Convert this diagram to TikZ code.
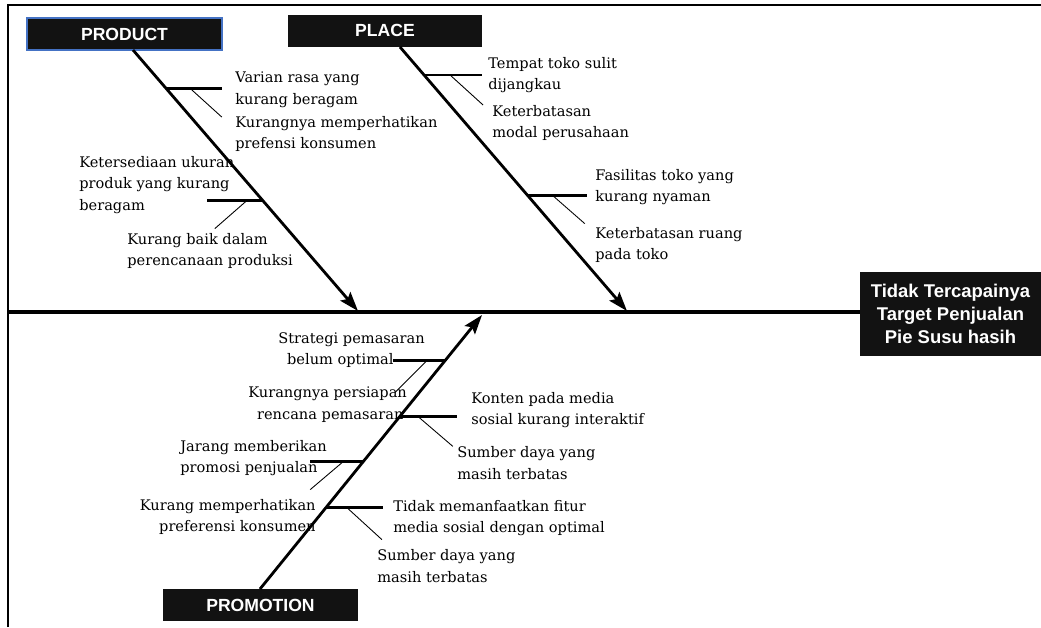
\documentclass[tikz,border=0pt]{standalone}
\usepackage{fontspec}
\setmainfont{DejaVu Serif}
\newfontfamily\headfont{Liberation Sans}
\usetikzlibrary{arrows.meta}
\usetikzlibrary{shapes,positioning}
\tikzset{>={Stealth[length=11pt,width=7.5pt,inset=2pt]}}
\definecolor{boxBlue}{RGB}{68,114,196}
\colorlet{boxFill}{black!93}
\tikzset{
  catbox/.style={fill=boxFill, text=white, inner sep=0pt,
    minimum width=3.9cm, minimum height=0.64cm,
    font=\headfont\bfseries\fontsize{10}{12}\selectfont},
  effbox/.style={fill=boxFill, text=white, inner sep=0pt, align=center,
    minimum width=3.62cm, minimum height=1.68cm,
    font=\headfont\bfseries\fontsize{10.5}{13}\selectfont},
  cause/.style={inner sep=0pt, anchor=west, align=left,
    font=\fontsize{8.3}{12.4}\selectfont},
  spine/.style={line width=2pt},
  bone/.style={line width=1.6pt, ->},
  rib/.style={line width=1.6pt},
  twig/.style={line width=0.5pt}
}

\begin{document}
\begin{tikzpicture}[x=0.02cm,y=-0.02cm]
    \useasboundingbox (0,0) rectangle (1041,627);
    \draw [line width=1.1pt] (8,627) -- (8,5) -- (1041,5);
    % head and spine
    \node[effbox] (effect) at (950.5,314) {Tidak Tercapainya\\Target Penjualan\\Pie Susu hasih};
    \coordinate (tail) at (8,312);
    \draw[spine] (tail) -- (tail -| effect.west);
    % categories
    \node[catbox, draw=boxBlue, line width=0.6pt] (product) at (124.5,34) {PRODUCT};
    \node[catbox] (place) at (385,30.5) {PLACE};
    \node[catbox] (promotion) at (260.5,605) {PROMOTION};
    \coordinate (prodtop) at (133,50);
    \coordinate (prodtip) at (358,311);
    \coordinate (placetop) at (400,47);
    \coordinate (placetip) at (627,311);
    \coordinate (promobot) at (260,589);
    \coordinate (promotip) at (482,315);
    \draw[bone] (prodtop) -- (prodtip) coordinate[pos=0.146] (pd1) coordinate[pos=0.577] (pd2);
    \draw[bone] (placetop) -- (placetip) coordinate[pos=0.106] (pl1) coordinate[pos=0.563] (pl2);
    \draw[bone] (promobot) -- (promotip) coordinate[pos=0.835] (pm1) coordinate[pos=0.630] (pm2)
      coordinate[pos=0.465] (pm3) coordinate[pos=0.297] (pm4);
    % product
    \draw[rib] (pd1) -- ++(56,0);
    \draw[twig] (pd1) ++(24,0) -- ++(32,29);
    \draw[rib] (pd2) -- ++(-56,0);
    \draw[twig] (pd2) ++(-16,0) -- ++(-32,28);
    \node[cause] (varian) at (235,90) {Varian rasa yang\\kurang beragam};
    \node[cause] (prefensi) at (235,134) {Kurangnya memperhatikan\\prefensi konsumen};
    \node[cause] (ukuran) at (79,185) {Ketersediaan ukuran\\produk yang kurang\\beragam};
    \node[cause] (rencana) at (127,251) {Kurang baik dalam\\perencanaan produksi};
    % place
    \draw[rib] (pl1) -- ++(58,0);
    \draw[twig] (pl1) ++(26,0) -- ++(33,30);
    \draw[rib] (pl2) -- ++(59,0);
    \draw[twig] (pl2) ++(25,0) -- ++(32,28);
    \node[cause] (tempat) at (488,75) {Tempat toko sulit\\dijangkau};
    \node[cause] (modal) at (492,123) {Keterbatasan\\modal perusahaan};
    \node[cause] (fasilitas) at (595,187) {Fasilitas toko yang\\kurang nyaman};
    \node[cause] (ruang) at (595,245) {Keterbatasan ruang\\pada toko};
    % promotion
    \draw[rib] (pm1) -- ++(-52,0);
    \draw[twig] (pm1) ++(-18,0) -- ++(-32,32);
    \draw[rib] (pm2) -- ++(57,0);
    \draw[twig] (pm2) ++(18,0) -- ++(35,30);
    \draw[rib] (pm3) -- ++(-53,0);
    \draw[twig] (pm3) ++(-20,0) -- ++(-33,28);
    \draw[rib] (pm4) -- ++(57,0);
    \draw[twig] (pm4) ++(21,0) -- ++(35,32);
    \node[cause] (strategi) at (278,350) {Strategi pemasaran\\\hspace*{5pt}belum optimal};
    \node[cause] (persiapan) at (248,405) {Kurangnya persiapan\\\hspace*{5pt}rencana pemasaran};
    \node[cause] (konten) at (471,410) {Konten pada media\\sosial kurang interaktif};
    \node[cause] (sumber1) at (457,463) {Sumber daya yang\\masih terbatas};
    \node[cause] (jarang) at (180,458) {Jarang memberikan\\promosi penjualan};
    \node[cause, anchor=east, align=right] (preferensi) at (316,517) {Kurang memperhatikan\\preferensi konsumen};
    \node[cause] (fitur) at (393,518) {Tidak memanfaatkan fitur\\media sosial dengan optimal};
    \node[cause] (sumber2) at (377,566) {Sumber daya yang\\masih terbatas};
\end{tikzpicture}
\end{document}
